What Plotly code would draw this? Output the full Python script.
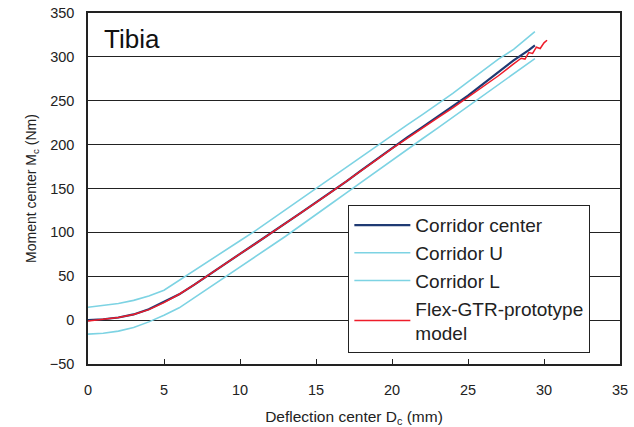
import plotly.graph_objects as go

# Deflection (mm) sample points
x_corr = [0, 1, 2, 3, 4, 5, 6, 7, 8, 9, 10, 11, 12, 13, 14, 15, 16, 17, 18, 19,
          20, 21, 22, 23, 24, 25, 26, 27, 28, 29, 29.4]
center = [0, 1, 3, 6.5, 12.3, 20.5, 29.4, 40.4, 52.4, 64, 75.5, 87, 98.5, 110.3, 122.2,
          134.1, 146, 158.2, 170.9, 183.6, 196.2, 208.2, 219.9, 231.7, 243.4, 255.9,
          269.3, 282.6, 296, 307.7, 313]
upper = [14.6, 16.5, 19, 22.5, 27.5, 34, 45.5, 57, 68.5, 79.5, 90.5, 101.7, 113.8, 126,
         138, 150.2, 162.4, 174.6, 186.8, 199, 210.8, 222.5, 234.2, 245.9, 258.4, 271.4,
         284.4, 297.4, 308.5, 323.5, 328.7]
lower = [-16, -15, -12.5, -8.5, -2, 5.5, 14, 25.5, 37, 48.8, 60.5, 72.2, 83.9, 95.6,
         107.7, 120.2, 132.6, 145.1, 157.6, 169.9, 182.2, 194.5, 206.7, 218.9, 231.1,
         243.3, 255.6, 268, 280.5, 293, 298]
x_model = [0, 1, 2, 3, 4, 5, 6, 7, 8, 9, 10, 11, 12, 13, 14, 15, 16, 17, 18, 19, 20,
           21, 22, 23, 24, 25, 26, 27, 28, 28.5, 28.75, 29, 29.25, 29.5, 29.75, 30, 30.2]
model = [-1, 1, 3, 6.5, 12, 20, 29.5, 40.5, 52.5, 64, 75.5, 87, 98.5, 110, 122, 134, 146,
         158, 170.5, 183, 195.5, 207.5, 219, 230.5, 242, 254, 266, 278.5, 292, 298.5,
         297.5, 305, 304, 311, 309.5, 316, 319]

names = ["Corridor center", "Corridor U", "Corridor L",
         "Flex-GTR-prototype<br>model"]
x_ticks = [0, 5, 10, 15, 20, 25, 30, 35]
y_ticks = [-50, 0, 50, 100, 150, 200, 250, 300, 350]

fig = go.Figure()
fig.add_trace(go.Scatter(x=x_corr, y=center, mode="lines", name=names[0],
                         line=dict(color="#1f3a73", width=2.2)))
fig.add_trace(go.Scatter(x=x_corr, y=upper, mode="lines", name=names[1],
                         line=dict(color="#7dd3e3", width=1.6)))
fig.add_trace(go.Scatter(x=x_corr, y=lower, mode="lines", name=names[2],
                         line=dict(color="#7dd3e3", width=1.6)))
fig.add_trace(go.Scatter(x=x_model, y=model, mode="lines", name=names[3],
                         line=dict(color="#ee1c2a", width=1.5)))

fig.update_layout(
    width=634, height=427,
    margin=dict(l=88, r=14, t=13, b=63),
    paper_bgcolor="white", plot_bgcolor="white",
    font=dict(family="Liberation Sans, Arial, sans-serif", color="#222"),
    showlegend=True,
    legend=dict(x=0.489, y=0.453, xanchor="left", yanchor="top",
                bgcolor="white", bordercolor="#222", borderwidth=1.2,
                font=dict(size=19, color="#222"), tracegroupgap=0,
                itemwidth=56),
    annotations=[dict(text="Tibia", x=0.027, y=0.925, xref="paper", yref="paper",
                      xanchor="left", yanchor="middle", showarrow=False,
                      font=dict(size=26, color="#111"))],
)
fig.update_xaxes(range=[0, 35], tickvals=x_ticks, showgrid=False, zeroline=False,
                 showline=True, linecolor="#222", linewidth=1.5, mirror=True,
                 ticks="inside", ticklen=5, tickcolor="#222",
                 tickfont=dict(size=14.5), ticklabelstandoff=12, automargin=False,
                 title=dict(text="Deflection center D<sub>c</sub> (mm)",
                            font=dict(size=15.5), standoff=14))
fig.update_yaxes(range=[-50, 350], tickvals=y_ticks, showgrid=True, gridcolor="#222",
                 gridwidth=1.2, zeroline=False, showline=True, linecolor="#222",
                 linewidth=1.5, mirror=True, ticks="", tickfont=dict(size=14.5),
                 ticklabelstandoff=9, automargin=False,
                 title=dict(text="Moment center M<sub>c</sub> (Nm)",
                            font=dict(size=14), standoff=10))

fig.write_html("out.html")
